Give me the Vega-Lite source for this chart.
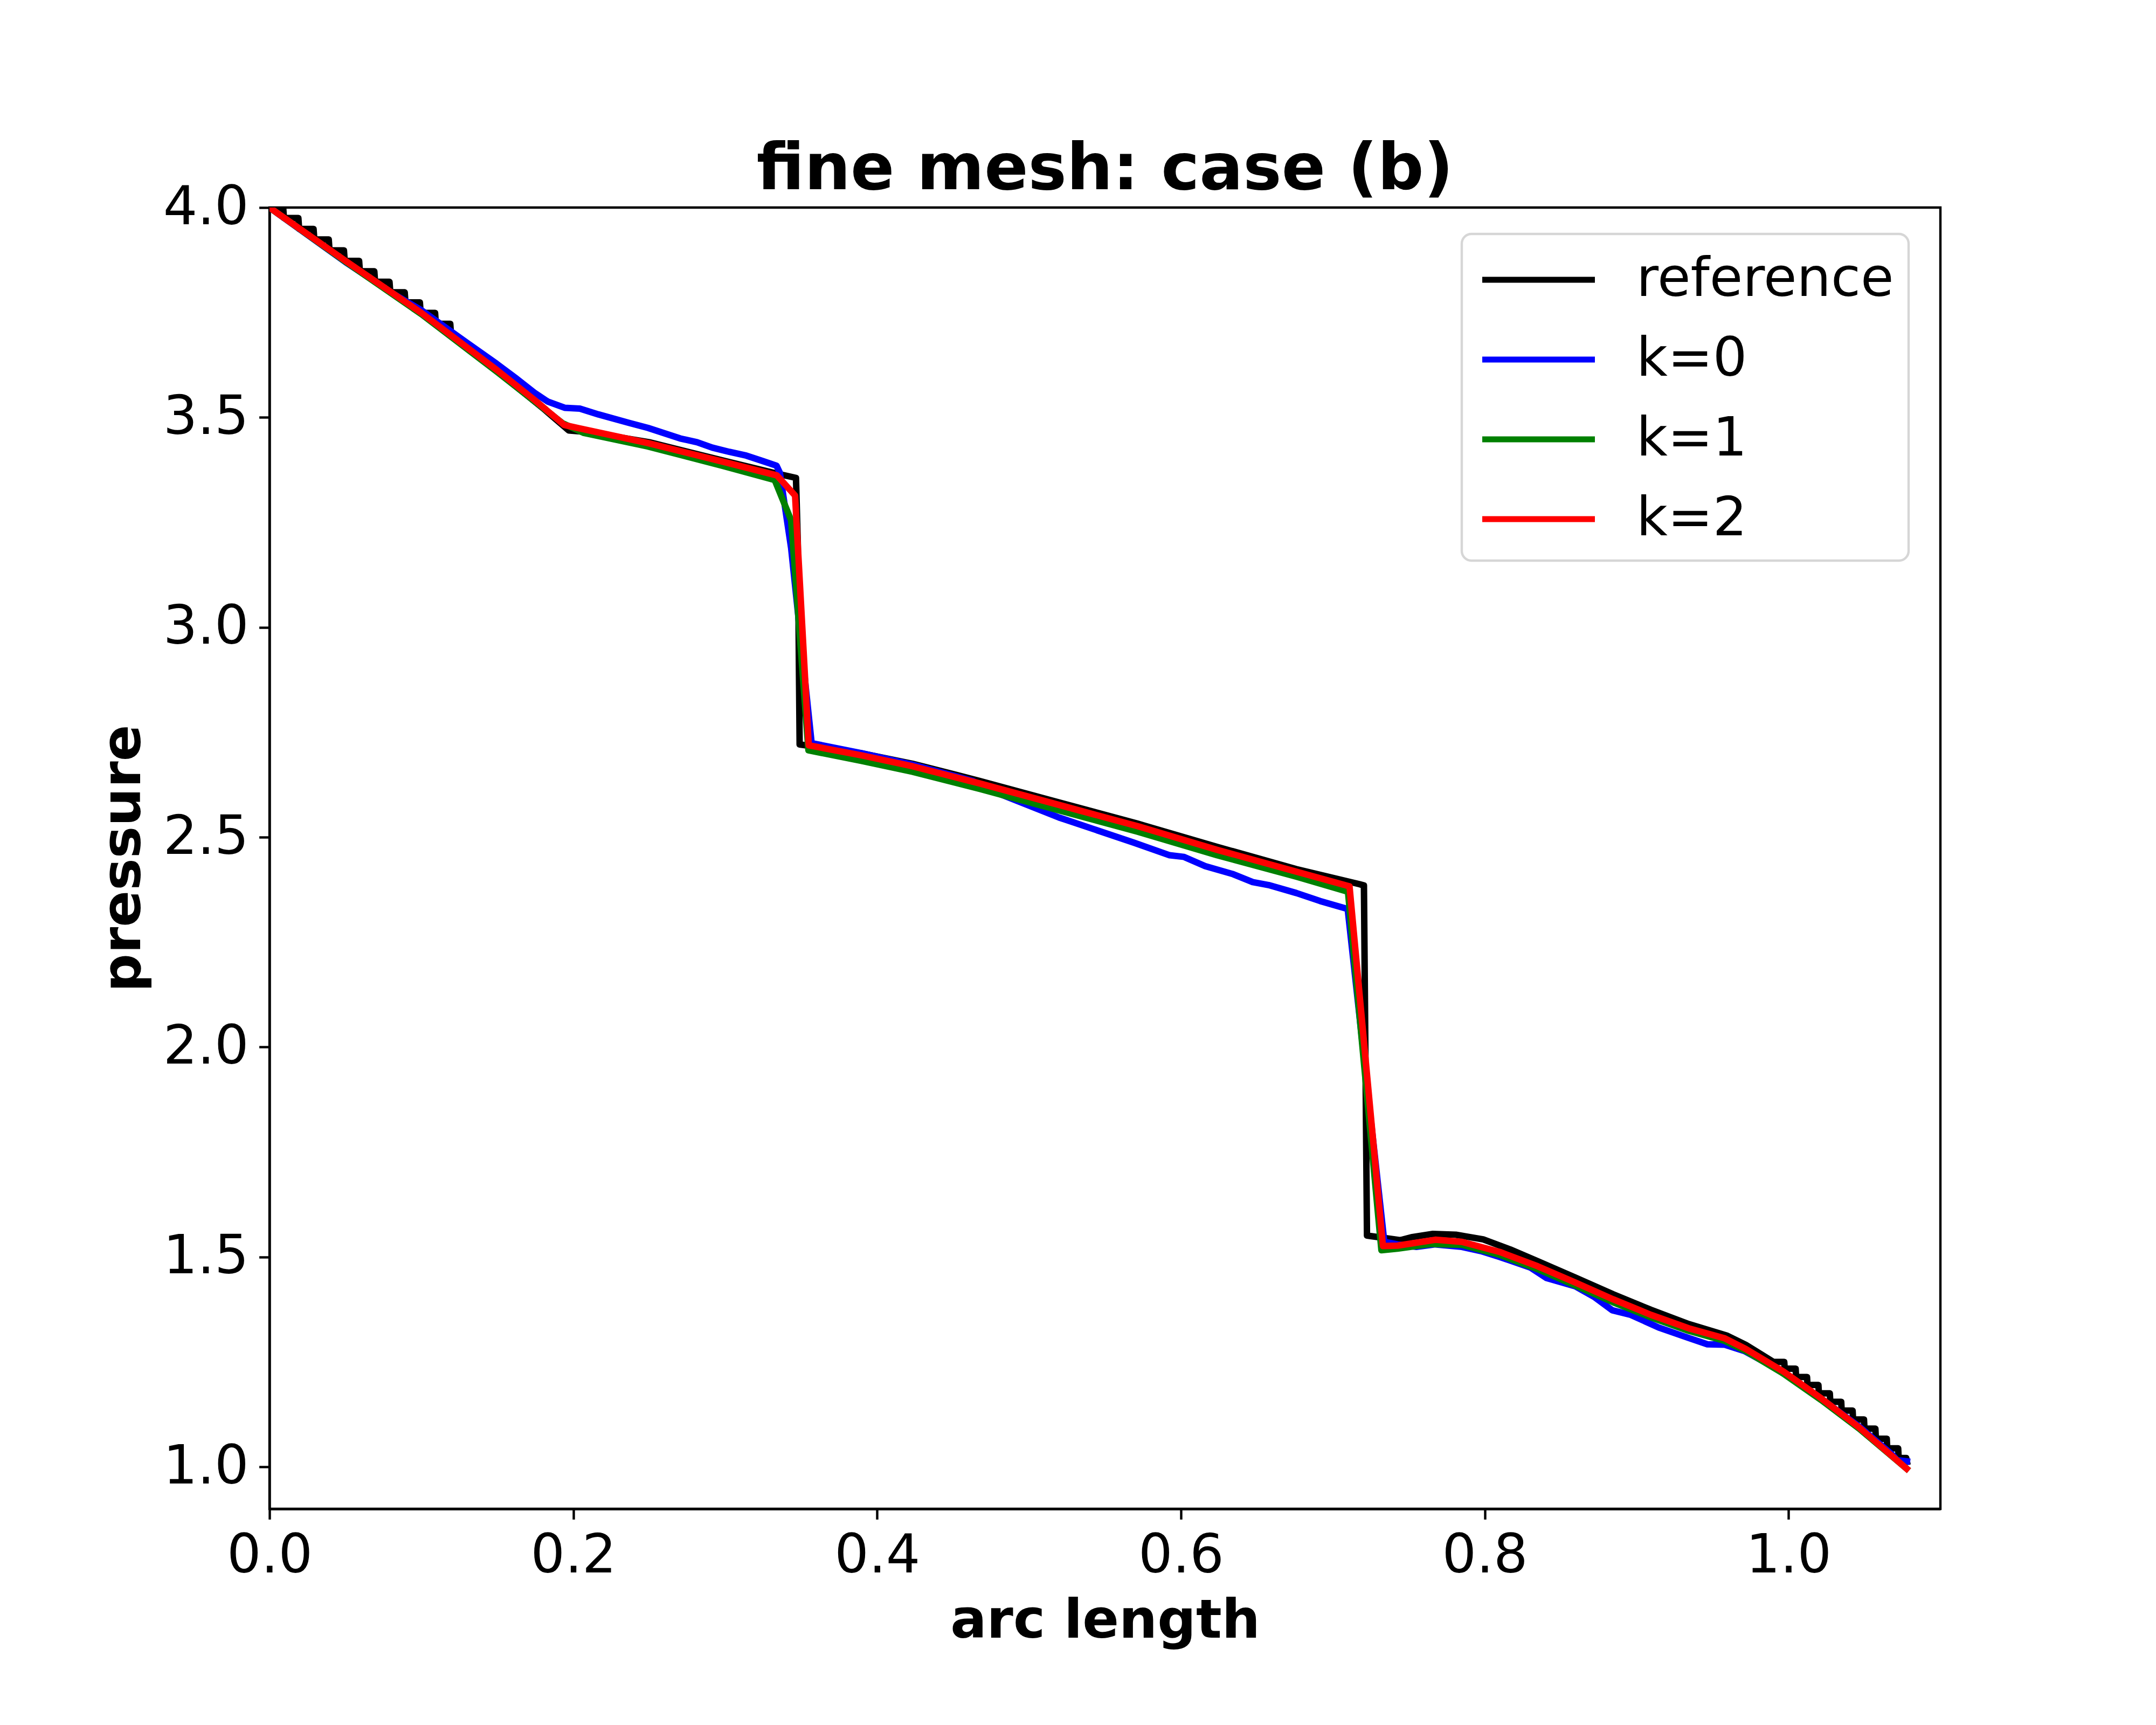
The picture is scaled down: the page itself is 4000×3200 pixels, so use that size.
{
  "$schema": "https://vega.github.io/schema/vega-lite/v6.json",
  "width": 3100,
  "height": 2414,
  "autosize": {"type": "none"},
  "padding": {"left": 500, "top": 385, "right": 400, "bottom": 401},
  "background": "white",
  "title": {"text": "fine mesh: case (b)", "font": "DejaVu Sans", "fontSize": 120, "fontWeight": "bold", "anchor": "middle", "offset": -136, "baseline": "alphabetic", "color": "black"},
  "data": {"values": [
    {"s":"reference","x":0,"y":4.0},{"s":"reference","x":0.009,"y":4.0},{"s":"reference","x":0.0095,"y":3.975},{"s":"reference","x":0.019,"y":3.975},{"s":"reference","x":0.0195,"y":3.949},{"s":"reference","x":0.029,"y":3.949},{"s":"reference","x":0.0295,"y":3.924},{"s":"reference","x":0.039,"y":3.924},{"s":"reference","x":0.0395,"y":3.898},{"s":"reference","x":0.049,"y":3.898},{"s":"reference","x":0.0495,"y":3.873},{"s":"reference","x":0.059,"y":3.873},{"s":"reference","x":0.0595,"y":3.848},{"s":"reference","x":0.069,"y":3.848},{"s":"reference","x":0.0695,"y":3.823},{"s":"reference","x":0.079,"y":3.823},{"s":"reference","x":0.0795,"y":3.798},{"s":"reference","x":0.089,"y":3.798},{"s":"reference","x":0.0895,"y":3.774},{"s":"reference","x":0.099,"y":3.774},{"s":"reference","x":0.0995,"y":3.749},{"s":"reference","x":0.109,"y":3.749},{"s":"reference","x":0.1095,"y":3.723},{"s":"reference","x":0.119,"y":3.723},{"s":"reference","x":0.1195,"y":3.696},{"s":"reference","x":0.15,"y":3.61},{"s":"reference","x":0.18,"y":3.522},{"s":"reference","x":0.197,"y":3.469},{"s":"reference","x":0.21,"y":3.465},{"s":"reference","x":0.25,"y":3.441},{"s":"reference","x":0.3,"y":3.396},{"s":"reference","x":0.334,"y":3.366},{"s":"reference","x":0.3466,"y":3.356},{"s":"reference","x":0.3478,"y":3.2},{"s":"reference","x":0.349,"y":2.721},{"s":"reference","x":0.3895,"y":2.7},{"s":"reference","x":0.4233,"y":2.675},{"s":"reference","x":0.4676,"y":2.634},{"s":"reference","x":0.5197,"y":2.583},{"s":"reference","x":0.5717,"y":2.532},{"s":"reference","x":0.6238,"y":2.477},{"s":"reference","x":0.676,"y":2.424},{"s":"reference","x":0.7176,"y":2.388},{"s":"reference","x":0.7205,"y":2.385},{"s":"reference","x":0.7225,"y":1.551},{"s":"reference","x":0.7446,"y":1.54},{"s":"reference","x":0.7517,"y":1.547},{"s":"reference","x":0.7659,"y":1.555},{"s":"reference","x":0.781,"y":1.553},{"s":"reference","x":0.799,"y":1.542},{"s":"reference","x":0.8168,"y":1.518},{"s":"reference","x":0.8348,"y":1.49},{"s":"reference","x":0.8597,"y":1.451},{"s":"reference","x":0.8846,"y":1.411},{"s":"reference","x":0.9095,"y":1.374},{"s":"reference","x":0.9344,"y":1.34},{"s":"reference","x":0.9593,"y":1.313},{"s":"reference","x":0.9718,"y":1.291},{"s":"reference","x":0.982,"y":1.268},{"s":"reference","x":0.99,"y":1.25},{"s":"reference","x":0.9972,"y":1.25},{"s":"reference","x":0.9975,"y":1.234},{"s":"reference","x":1.0047,"y":1.234},{"s":"reference","x":1.005,"y":1.214},{"s":"reference","x":1.0122,"y":1.214},{"s":"reference","x":1.0125,"y":1.195},{"s":"reference","x":1.0197,"y":1.195},{"s":"reference","x":1.02,"y":1.175},{"s":"reference","x":1.0272,"y":1.175},{"s":"reference","x":1.0275,"y":1.155},{"s":"reference","x":1.0347,"y":1.155},{"s":"reference","x":1.035,"y":1.134},{"s":"reference","x":1.0422,"y":1.134},{"s":"reference","x":1.0425,"y":1.113},{"s":"reference","x":1.0497,"y":1.113},{"s":"reference","x":1.05,"y":1.091},{"s":"reference","x":1.0572,"y":1.091},{"s":"reference","x":1.0575,"y":1.067},{"s":"reference","x":1.0647,"y":1.067},{"s":"reference","x":1.065,"y":1.044},{"s":"reference","x":1.0722,"y":1.044},{"s":"reference","x":1.0725,"y":1.021},{"s":"reference","x":1.0775,"y":1.021},{"s":"reference","x":1.078,"y":1.012},
    {"s":"k=0","x":0,"y":4.0},{"s":"k=0","x":0.05,"y":3.87},{"s":"k=0","x":0.0822,"y":3.793},{"s":"k=0","x":0.0997,"y":3.756},{"s":"k=0","x":0.1295,"y":3.679},{"s":"k=0","x":0.1495,"y":3.628},{"s":"k=0","x":0.162,"y":3.594},{"s":"k=0","x":0.1744,"y":3.559},{"s":"k=0","x":0.1831,"y":3.538},{"s":"k=0","x":0.1943,"y":3.523},{"s":"k=0","x":0.2043,"y":3.521},{"s":"k=0","x":0.2167,"y":3.507},{"s":"k=0","x":0.2367,"y":3.487},{"s":"k=0","x":0.2491,"y":3.475},{"s":"k=0","x":0.2703,"y":3.45},{"s":"k=0","x":0.2815,"y":3.441},{"s":"k=0","x":0.2915,"y":3.428},{"s":"k=0","x":0.3027,"y":3.418},{"s":"k=0","x":0.3139,"y":3.409},{"s":"k=0","x":0.3239,"y":3.397},{"s":"k=0","x":0.3338,"y":3.385},{"s":"k=0","x":0.336,"y":3.368},{"s":"k=0","x":0.3434,"y":3.189},{"s":"k=0","x":0.3569,"y":2.724},{"s":"k=0","x":0.39,"y":2.7},{"s":"k=0","x":0.423,"y":2.673},{"s":"k=0","x":0.463,"y":2.634},{"s":"k=0","x":0.4703,"y":2.618},{"s":"k=0","x":0.5197,"y":2.547},{"s":"k=0","x":0.5691,"y":2.487},{"s":"k=0","x":0.5926,"y":2.457},{"s":"k=0","x":0.6021,"y":2.453},{"s":"k=0","x":0.616,"y":2.431},{"s":"k=0","x":0.6343,"y":2.412},{"s":"k=0","x":0.6473,"y":2.393},{"s":"k=0","x":0.6577,"y":2.386},{"s":"k=0","x":0.676,"y":2.367},{"s":"k=0","x":0.6916,"y":2.348},{"s":"k=0","x":0.7098,"y":2.329},{"s":"k=0","x":0.7339,"y":1.536},{"s":"k=0","x":0.7426,"y":1.53},{"s":"k=0","x":0.755,"y":1.524},{"s":"k=0","x":0.7675,"y":1.53},{"s":"k=0","x":0.785,"y":1.524},{"s":"k=0","x":0.7975,"y":1.514},{"s":"k=0","x":0.8099,"y":1.5},{"s":"k=0","x":0.83,"y":1.475},{"s":"k=0","x":0.8406,"y":1.45},{"s":"k=0","x":0.8597,"y":1.43},{"s":"k=0","x":0.872,"y":1.405},{"s":"k=0","x":0.884,"y":1.373},{"s":"k=0","x":0.8962,"y":1.362},{"s":"k=0","x":0.9145,"y":1.332},{"s":"k=0","x":0.9344,"y":1.307},{"s":"k=0","x":0.9466,"y":1.292},{"s":"k=0","x":0.958,"y":1.291},{"s":"k=0","x":0.971,"y":1.276},{"s":"k=0","x":0.9967,"y":1.225},{"s":"k=0","x":1.0216,"y":1.162},{"s":"k=0","x":1.0465,"y":1.096},{"s":"k=0","x":1.068,"y":1.03},{"s":"k=0","x":1.0715,"y":1.016},{"s":"k=0","x":1.078,"y":1.013},
    {"s":"k=1","x":0,"y":4.0},{"s":"k=1","x":0.05,"y":3.871},{"s":"k=1","x":0.1,"y":3.746},{"s":"k=1","x":0.15,"y":3.608},{"s":"k=1","x":0.174,"y":3.54},{"s":"k=1","x":0.193,"y":3.486},{"s":"k=1","x":0.207,"y":3.463},{"s":"k=1","x":0.249,"y":3.431},{"s":"k=1","x":0.299,"y":3.384},{"s":"k=1","x":0.3326,"y":3.351},{"s":"k=1","x":0.3434,"y":3.255},{"s":"k=1","x":0.3548,"y":2.707},{"s":"k=1","x":0.3895,"y":2.682},{"s":"k=1","x":0.4233,"y":2.656},{"s":"k=1","x":0.4676,"y":2.615},{"s":"k=1","x":0.5197,"y":2.564},{"s":"k=1","x":0.5717,"y":2.513},{"s":"k=1","x":0.6238,"y":2.457},{"s":"k=1","x":0.676,"y":2.406},{"s":"k=1","x":0.71,"y":2.37},{"s":"k=1","x":0.732,"y":1.516},{"s":"k=1","x":0.7426,"y":1.52},{"s":"k=1","x":0.765,"y":1.531},{"s":"k=1","x":0.785,"y":1.529},{"s":"k=1","x":0.8099,"y":1.505},{"s":"k=1","x":0.8348,"y":1.471},{"s":"k=1","x":0.8597,"y":1.432},{"s":"k=1","x":0.8846,"y":1.392},{"s":"k=1","x":0.9095,"y":1.356},{"s":"k=1","x":0.9344,"y":1.324},{"s":"k=1","x":0.9581,"y":1.3},{"s":"k=1","x":0.9718,"y":1.276},{"s":"k=1","x":0.9967,"y":1.222},{"s":"k=1","x":1.0216,"y":1.159},{"s":"k=1","x":1.0465,"y":1.091},{"s":"k=1","x":1.0777,"y":0.996},
    {"s":"k=2","x":0,"y":4.0},{"s":"k=2","x":0.05,"y":3.873},{"s":"k=2","x":0.1,"y":3.749},{"s":"k=2","x":0.15,"y":3.612},{"s":"k=2","x":0.174,"y":3.543},{"s":"k=2","x":0.194,"y":3.482},{"s":"k=2","x":0.204,"y":3.474},{"s":"k=2","x":0.249,"y":3.439},{"s":"k=2","x":0.299,"y":3.394},{"s":"k=2","x":0.334,"y":3.362},{"s":"k=2","x":0.346,"y":3.314},{"s":"k=2","x":0.355,"y":2.719},{"s":"k=2","x":0.3895,"y":2.695},{"s":"k=2","x":0.4233,"y":2.669},{"s":"k=2","x":0.4676,"y":2.628},{"s":"k=2","x":0.5197,"y":2.577},{"s":"k=2","x":0.5717,"y":2.526},{"s":"k=2","x":0.6238,"y":2.47},{"s":"k=2","x":0.676,"y":2.418},{"s":"k=2","x":0.711,"y":2.383},{"s":"k=2","x":0.733,"y":1.526},{"s":"k=2","x":0.7426,"y":1.527},{"s":"k=2","x":0.7675,"y":1.541},{"s":"k=2","x":0.785,"y":1.536},{"s":"k=2","x":0.8099,"y":1.512},{"s":"k=2","x":0.8348,"y":1.478},{"s":"k=2","x":0.8597,"y":1.439},{"s":"k=2","x":0.8846,"y":1.399},{"s":"k=2","x":0.9095,"y":1.362},{"s":"k=2","x":0.9344,"y":1.33},{"s":"k=2","x":0.9581,"y":1.306},{"s":"k=2","x":0.9718,"y":1.281},{"s":"k=2","x":0.9967,"y":1.227},{"s":"k=2","x":1.0216,"y":1.163},{"s":"k=2","x":1.0465,"y":1.094},{"s":"k=2","x":1.0777,"y":0.996}
  ]},
  "mark": {"type": "line", "strokeWidth": 12, "strokeJoin": "round", "strokeCap": "square", "clip": true},
  "encoding": {
    "x": {"field": "x", "type": "quantitative", "title": "arc length",
          "scale": {"domain": [0, 1.1], "nice": false, "zero": false},
          "axis": {"values": [0, 0.2, 0.4, 0.6, 0.8, 1.0], "format": ".1f"}},
    "y": {"field": "y", "type": "quantitative", "title": "pressure",
          "scale": {"domain": [0.9, 4.0], "nice": false, "zero": false},
          "axis": {"values": [1.0, 1.5, 2.0, 2.5, 3.0, 3.5, 4.0], "format": ".1f"}},
    "color": {"field": "s", "type": "nominal",
              "scale": {"domain": ["reference", "k=0", "k=1", "k=2"], "range": ["#000000", "#0000ff", "#008000", "#ff0000"]},
              "legend": {"title": null, "orient": "none", "legendX": 2212, "legendY": 49,
                         "symbolType": "M-2,0H2", "symbolSize": 10920, "symbolStrokeWidth": 11, "symbolOffset": 57.5,
                         "labelFont": "DejaVu Sans", "labelFontSize": 100, "labelColor": "black", "labelOffset": 123.5, "labelLimit": 2000,
                         "padding": 27, "rowPadding": 40, "strokeColor": "#d6d6d6", "fillColor": "white", "cornerRadius": 18}}
  },
  "config": {
    "font": "DejaVu Sans",
    "view": {"stroke": "black", "strokeWidth": 4.4},
    "legend": {"strokeWidth": 4.4},
    "axis": {"grid": false, "labelFlush": false, "domainColor": "black", "domainWidth": 4.4, "tickColor": "black", "tickWidth": 4.4, "tickSize": 19.4,
             "labelFont": "DejaVu Sans", "labelFontSize": 100, "labelColor": "black", "labelPadding": 19.4,
             "titleFont": "DejaVu Sans", "titleFontSize": 100, "titleFontWeight": "bold", "titleColor": "black", "titlePadding": 22}
  }
}
